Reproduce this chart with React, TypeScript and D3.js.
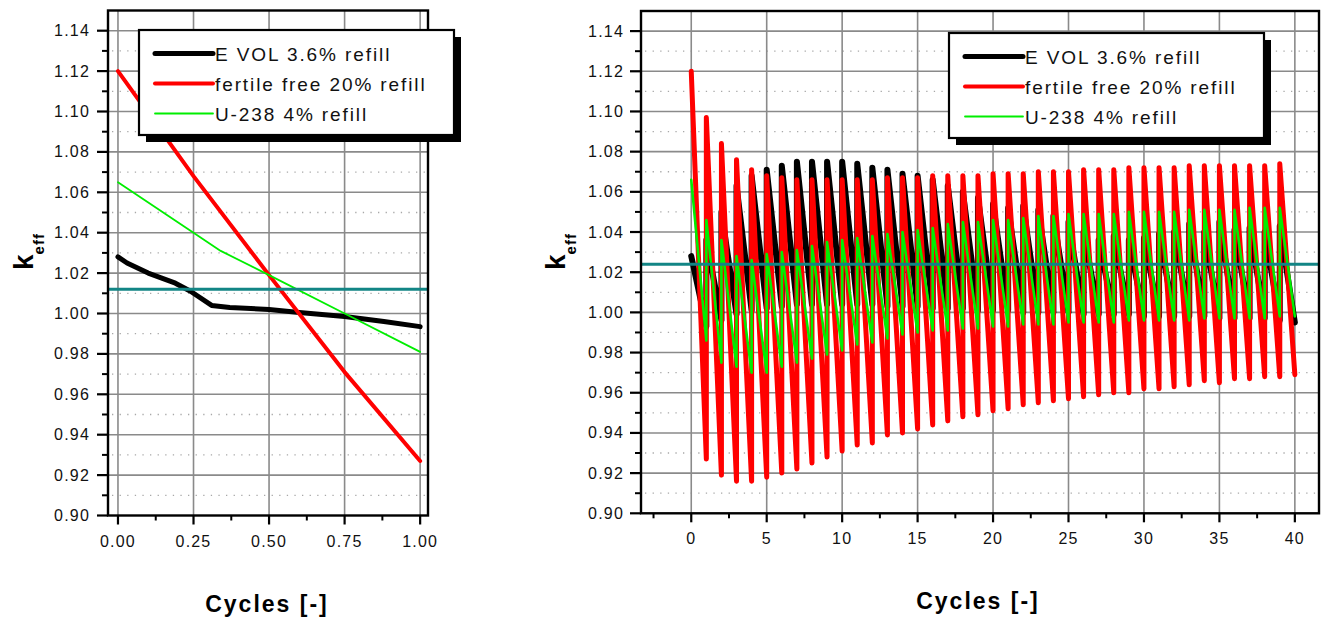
import React from "react";
import * as d3 from "d3";

// ---- left panel: one cycle ----
const oneEvolX = [0, 0.03, 0.1, 0.19, 0.24, 0.31, 0.37, 0.5, 0.6, 0.75, 0.88, 1.0];
const oneEvolK = [1.028, 1.025, 1.02, 1.015, 1.011, 1.004, 1.003, 1.002, 1.0005, 0.9985, 0.996, 0.9935];
const oneFertileX = [0, 0.25, 0.5, 0.75, 1.0];
const oneFertileK = [1.12, 1.068, 1.019, 0.971, 0.927];
const oneU238X = [0, 0.25, 0.34, 0.5, 0.75, 1.0];
const oneU238K = [1.065, 1.04, 1.031, 1.019, 1.0, 0.981];
const oneCritical = 1.012;

// ---- right panel: 40 cycles, value at start (refill) and end of each cycle ----
const cycles = [
  0, 1, 2, 3, 4, 5, 6, 7, 8, 9, 10, 11, 12, 13, 14, 15, 16, 17, 18, 19,
  20, 21, 22, 23, 24, 25, 26, 27, 28, 29, 30, 31, 32, 33, 34, 35, 36, 37, 38, 39,
];
const evolPeak = [
  1.028, 1.036, 1.05, 1.063, 1.068, 1.071, 1.073, 1.075, 1.075, 1.075, 1.075, 1.074, 1.072, 1.071, 1.069, 1.068, 1.066, 1.063, 1.06, 1.057,
  1.054, 1.052, 1.053, 1.051, 1.048, 1.045, 1.04, 1.036, 1.038, 1.036, 1.037, 1.039, 1.04, 1.044, 1.04, 1.045, 1.041, 1.042, 1.04, 1.043,
];
const evolEnd = [
  0.993, 0.996, 0.999, 1.001, 1.002, 1.003, 1.004, 1.004, 1.004, 1.004, 1.004, 1.004, 1.003, 1.003, 1.003, 1.002, 1.002, 1.002, 1.001, 1.001,
  1.001, 1.0, 1.0, 1.0, 1.0, 0.999, 0.999, 0.999, 0.999, 0.998, 0.998, 0.998, 0.998, 0.998, 0.997, 0.997, 0.997, 0.997, 0.996, 0.995,
];
const fertilePeak = [
  1.12, 1.097, 1.084, 1.076, 1.071, 1.068, 1.067, 1.066, 1.066, 1.066, 1.066, 1.066, 1.066, 1.067, 1.067, 1.067, 1.068, 1.068, 1.068, 1.068,
  1.069, 1.069, 1.069, 1.07, 1.07, 1.07, 1.071, 1.071, 1.071, 1.072, 1.072, 1.072, 1.072, 1.073, 1.073, 1.073, 1.073, 1.073, 1.073, 1.074,
];
const fertileEnd = [
  0.927, 0.919, 0.916, 0.916, 0.918, 0.92, 0.922, 0.925, 0.928, 0.931, 0.934, 0.935, 0.939, 0.94, 0.942, 0.944, 0.946, 0.948, 0.949, 0.951,
  0.952, 0.954, 0.955, 0.956, 0.957, 0.958, 0.959, 0.96, 0.96, 0.962, 0.962, 0.963, 0.964, 0.966, 0.965, 0.967, 0.967, 0.968, 0.968, 0.969,
];
const u238Peak = [
  1.066, 1.046, 1.036, 1.028, 1.026, 1.029, 1.03, 1.031, 1.033, 1.035, 1.036, 1.037, 1.038, 1.039, 1.04, 1.041, 1.042, 1.044, 1.045, 1.045,
  1.046, 1.046, 1.047, 1.048, 1.048, 1.049, 1.049, 1.049, 1.049, 1.05, 1.05, 1.05, 1.05, 1.051, 1.051, 1.051, 1.051, 1.052, 1.052, 1.052,
];
const u238End = [
  0.986, 0.975, 0.973, 0.97, 0.97, 0.973, 0.975, 0.977, 0.979, 0.981, 0.984, 0.985, 0.987, 0.989, 0.99, 0.991, 0.991, 0.992, 0.992, 0.993,
  0.993, 0.994, 0.994, 0.994, 0.995, 0.995, 0.995, 0.995, 0.996, 0.996, 0.996, 0.996, 0.996, 0.997, 0.997, 0.997, 0.997, 0.997, 0.998, 0.998,
];
const manyCritical = 1.024;

const yTicks = [0.9, 0.92, 0.94, 0.96, 0.98, 1.0, 1.02, 1.04, 1.06, 1.08, 1.1, 1.12, 1.14];
const yMinor = [0.91, 0.93, 0.95, 0.97, 0.99, 1.01, 1.03, 1.05, 1.07, 1.09, 1.11, 1.13];
const oneXTicks = [0, 0.25, 0.5, 0.75, 1.0];
const oneXMinor = [0.125, 0.375, 0.625, 0.875];
const manyXTicks = [0, 5, 10, 15, 20, 25, 30, 35, 40];
const manyXMinor = [-2.5, 2.5, 7.5, 12.5, 17.5, 22.5, 27.5, 32.5, 37.5];
const legendLabels = ["E VOL 3.6% refill", "fertile free 20% refill", "U-238 4% refill"];

const FONT = "'Liberation Sans', Arial, sans-serif";
const colors = ["#000000", "#ff0000", "#00ee00"];
const legendWidths = [5, 4, 1.8];

function zip(xs: number[], ys: number[]): [number, number][] {
  return xs.map((v, i) => [v, ys[i]] as [number, number]);
}

function sawtooth(peaks: number[], ends: number[]): [number, number][] {
  const pts: [number, number][] = [];
  cycles.forEach((c, i) => {
    pts.push([c, peaks[i]]);
    pts.push([c + 1, ends[i]]);
  });
  return pts;
}

type PanelProps = {
  id: string;
  left: number; right: number; top: number; bottom: number;
  xDomain: [number, number];
  xTicks: number[]; xMinor: number[];
  fmt: (d: number) => string;
  series: [number, number][][];
  widths: number[];
  critical: number;
  legendX: number; legendY: number;
  yTitleX: number; xTitleX: number;
  yLabelX: number;
};

function Panel(p: PanelProps) {
  const x = d3.scaleLinear().domain(p.xDomain).range([p.left, p.right]);
  const y = d3.scaleLinear().domain([0.9, 1.15]).range([p.bottom, p.top]);
  const line = d3.line<[number, number]>().x(d => x(d[0])).y(d => y(d[1]));

  return (
    <g>
      <defs>
        <clipPath id={p.id}>
          <rect x={p.left} y={p.top} width={p.right - p.left} height={p.bottom - p.top} />
        </clipPath>
      </defs>
      {/* dotted minor grid */}
      {yMinor.map((v, i) => (
        <line key={"dm" + i} x1={p.left + 4} x2={p.right} y1={y(v)} y2={y(v)}
          stroke="#a8a8a8" strokeWidth={1.3} strokeDasharray="1.3 6.3" />
      ))}
      {/* solid major grid */}
      {yTicks.slice(1).map((v, i) => (
        <line key={"gy" + i} x1={p.left} x2={p.right} y1={y(v)} y2={y(v)} stroke="#8a8a8a" strokeWidth={1.6} />
      ))}
      {p.xTicks.map((v, i) => (
        <line key={"gx" + i} x1={x(v)} x2={x(v)} y1={p.top} y2={p.bottom} stroke="#8a8a8a" strokeWidth={1.6} />
      ))}

      <g clipPath={`url(#${p.id})`}>
        {p.series.map((s, i) => (
          <path key={"s" + i} d={line(s) || ""} fill="none" stroke={colors[i]} strokeWidth={p.widths[i]}
            strokeLinejoin="round" strokeLinecap="round" />
        ))}
        <line x1={p.left} x2={p.right} y1={y(p.critical)} y2={y(p.critical)} stroke="#128585" strokeWidth={3} />
      </g>

      {/* frame */}
      <rect x={p.left} y={p.top} width={p.right - p.left} height={p.bottom - p.top} fill="none" stroke="#000" strokeWidth={2.4} />

      {/* y ticks */}
      {yTicks.map((v, i) => (
        <g key={"yt" + i}>
          <line x1={p.left - 11} x2={p.left} y1={y(v)} y2={y(v)} stroke="#000" strokeWidth={2.2} />
          <text x={p.yLabelX} y={y(v) + 5.5} textAnchor="end" fontFamily={FONT} fontSize={16}
            letterSpacing={1.2} fill="#111">{v.toFixed(2)}</text>
        </g>
      ))}
      {yMinor.map((v, i) => (
        <line key={"ym" + i} x1={p.left - 6} x2={p.left} y1={y(v)} y2={y(v)} stroke="#000" strokeWidth={2} />
      ))}
      {/* x ticks */}
      {p.xTicks.map((v, i) => (
        <g key={"xt" + i}>
          <line x1={x(v)} x2={x(v)} y1={p.bottom} y2={p.bottom + 9} stroke="#000" strokeWidth={2.2} />
          <text x={x(v)} y={p.bottom + 31} textAnchor="middle" fontFamily={FONT} fontSize={16}
            letterSpacing={1.2} fill="#111">{p.fmt(v)}</text>
        </g>
      ))}
      {p.xMinor.map((v, i) => (
        <line key={"xm" + i} x1={x(v)} x2={x(v)} y1={p.bottom} y2={p.bottom + 5} stroke="#000" strokeWidth={2} />
      ))}

      {/* axis titles */}
      <text x={p.xTitleX} y={p.bottom + 96} textAnchor="middle" fontFamily={FONT} fontWeight="bold"
        fontSize={23} letterSpacing={2}>Cycles [-]</text>
      <text transform={`translate(${p.yTitleX},270) rotate(-90)`} fontFamily={FONT} fontWeight="bold" fill="#000">
        <tspan fontSize={28}>k</tspan>
        <tspan fontSize={15} dy={11} letterSpacing={1}>eff</tspan>
      </text>

      {/* legend */}
      <g transform={`translate(${p.legendX},${p.legendY})`}>
        <rect x={7} y={7} width={315} height={105} fill="#000" />
        <rect x={0} y={0} width={315} height={105} fill="#fff" stroke="#000" strokeWidth={2.2} />
        {legendLabels.map((lab, i) => (
          <g key={"lg" + i} transform={`translate(0,${23.5 + i * 30})`}>
            <line x1={16} x2={74} y1={0} y2={0} stroke={colors[i]} strokeWidth={legendWidths[i]} strokeLinecap="round" />
            <text x={76} y={7} fontFamily={FONT} fontSize={19} letterSpacing={1.9} fill="#111">{lab}</text>
          </g>
        ))}
      </g>
    </g>
  );
}

export default function App() {
  return (
    <svg width={1321} height={621} style={{ position: "absolute", left: 0, top: 0, background: "#fff" }}>
      <rect width={1321} height={621} fill="#fff" />
      <Panel id="clipOne" left={108} right={428} top={10.5} bottom={515.5}
        xDomain={[-0.033, 1.026]} xTicks={oneXTicks} xMinor={oneXMinor}
        fmt={d => d.toFixed(2)}
        series={[zip(oneEvolX, oneEvolK), zip(oneFertileX, oneFertileK), zip(oneU238X, oneU238K)]}
        widths={[5, 4, 1.8]}
        critical={oneCritical} legendX={139} legendY={30}
        yTitleX={33} xTitleX={267} yLabelX={90} />
      <Panel id="clipMany" left={641} right={1319} top={11} bottom={513.3}
        xDomain={[-3.33, 41.6]} xTicks={manyXTicks} xMinor={manyXMinor}
        fmt={d => String(d)}
        series={[sawtooth(evolPeak, evolEnd), sawtooth(fertilePeak, fertileEnd), sawtooth(u238Peak, u238End)]}
        widths={[6, 5, 2.6]}
        critical={manyCritical} legendX={949} legendY={33}
        yTitleX={565} xTitleX={978} yLabelX={624} />
    </svg>
  );
}
